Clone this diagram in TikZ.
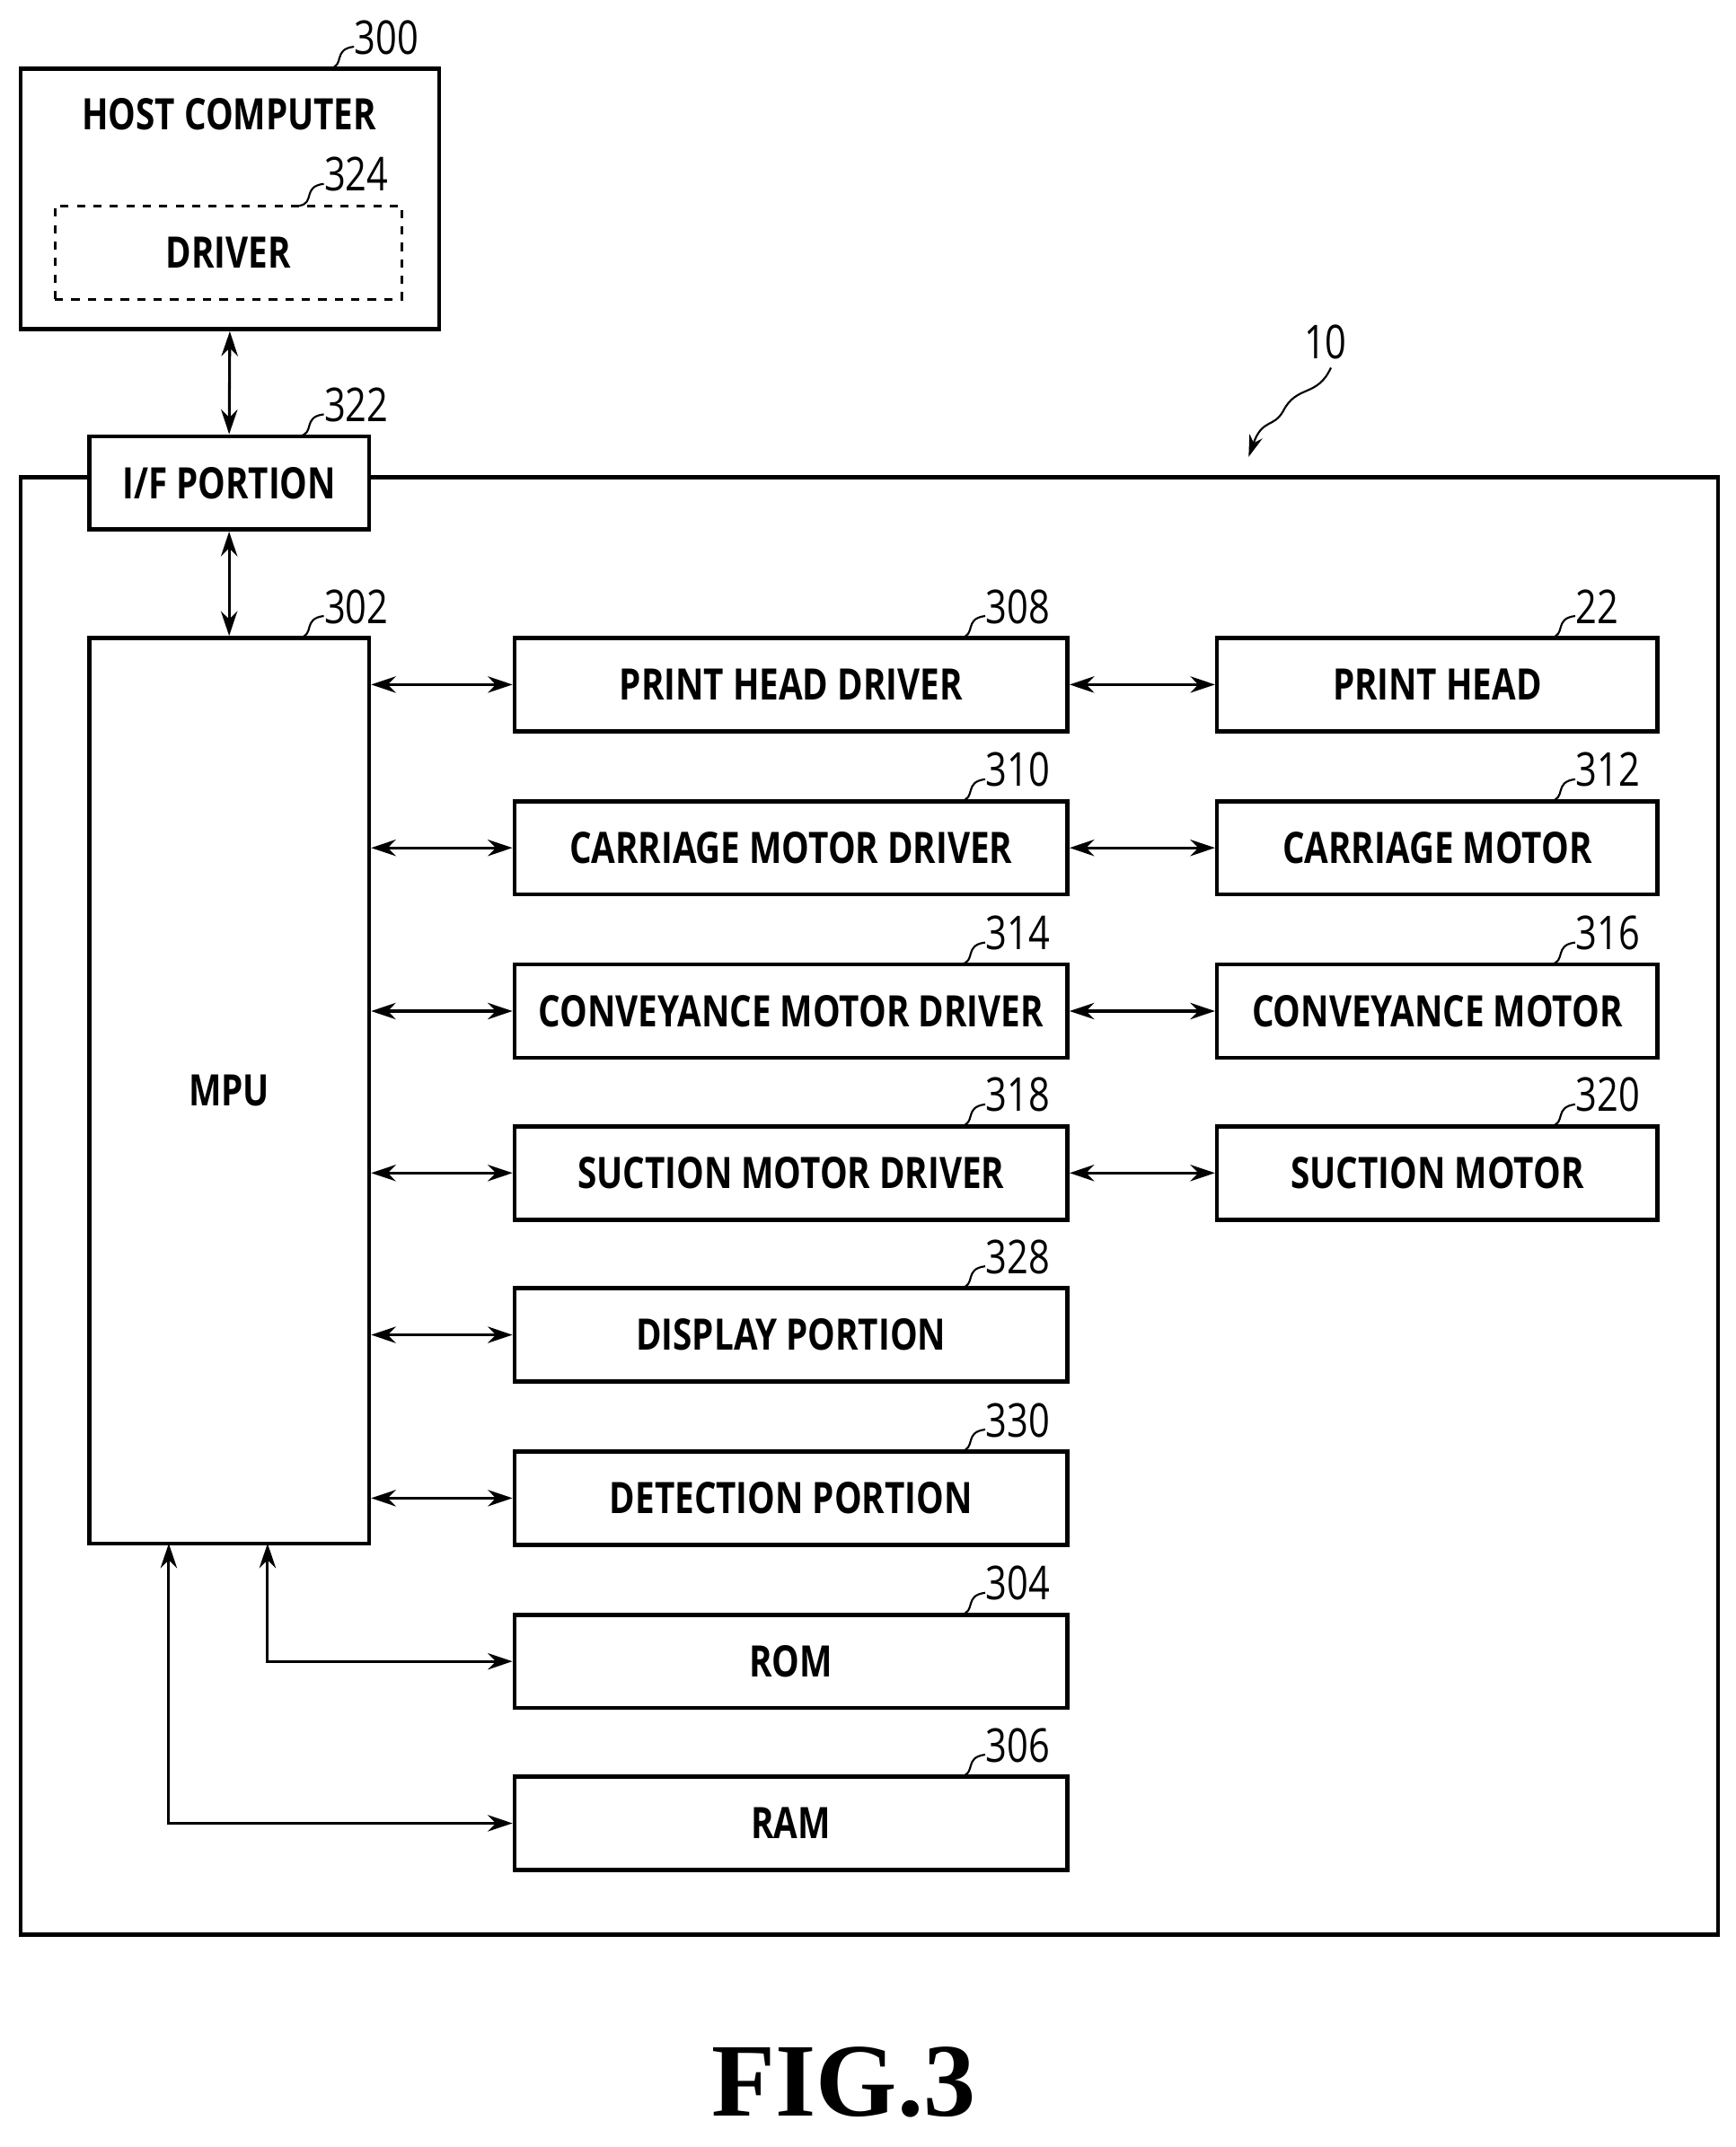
\documentclass[tikz,border=0pt]{standalone}
\usepackage{fontspec}
\setmainfont{Open Sans}[FakeStretch=0.8]
\usetikzlibrary{arrows.meta}
\begin{document}
\begin{tikzpicture}[x=0.5pt,y=-0.5pt,
  box/.style={draw,line width=1.5pt,inner sep=0pt,font=\fontsize{15.8}{18}\selectfont\bfseries},
  arr/.style={line width=1pt,{Stealth[length=9pt,width=6pt]}-{Stealth[length=9pt,width=6pt]}},
  num/.style={font=\fontsize{17}{20}\selectfont,inner sep=0pt,anchor=south west}]
\useasboundingbox (0,0) rectangle (1265,1565);
\newcommand\lbl[4]{% name, x, y, text
  \draw[line width=0.7pt] (#2,#3) .. controls (#2+12,#3-2) and (#2+2,#3-14) .. (#2+18,#3-16);
  \node[num] (#1) at (#2+18,#3-10) {#4};}
% host
\node[box,minimum width=152.5pt,minimum height=95pt] (host) at (167.5,145) {};
\node[font=\fontsize{15.8}{18}\selectfont\bfseries] (hostt) at (167,83) {HOST COMPUTER};
\lbl{l300}{240}{50}{300}
\node[box,dashed,line width=1pt,minimum width=126.5pt,minimum height=34pt] (drv) at (166.5,184) {DRIVER};
\lbl{l324}{218}{150}{324}
% outer
\draw[line width=1.5pt] (15,348) rectangle (1252,1410);
\node[num] (l10) at (950,262) {10};
\coordinate (a10) at (910,333);
\draw[line width=0.7pt,-{Stealth[length=8pt,width=5pt]}] (970,268) .. controls (960,290) and (945,280) .. (935,300) .. controls (928,312) and (920,305) .. (a10);
\node[box,fill=white,minimum width=102pt,minimum height=34pt] (if) at (167,352) {I/F PORTION};
\lbl{l322}{218}{318}{322}
\node[box,minimum width=102pt,minimum height=330pt] (mpu) at (167,795) {MPU};
\lbl{l302}{218}{465}{302}
\draw[arr] (host.south) -- (if.north);
\draw[arr] (if.south) -- (mpu.north);
% columns
\foreach \n/\y/\t/\l in {phd/499/PRINT HEAD DRIVER/308, cmd/618/CARRIAGE MOTOR DRIVER/310, vmd/737/CONVEYANCE MOTOR DRIVER/314, smd/855/SUCTION MOTOR DRIVER/318, dsp/973/DISPLAY PORTION/328, det/1092/DETECTION PORTION/330, rom/1211/ROM/304, ram/1329/RAM/306}{
  \node[box,minimum width=201.5pt,minimum height=34pt] (\n) at (576.5,\y) {\t};
  \lbl{l\l}{700}{\y-34}{\l}
}
\foreach \n/\y/\t/\l in {ph/499/PRINT HEAD/22, cm/618/CARRIAGE MOTOR/312, vm/737/CONVEYANCE MOTOR/316, sm/855/SUCTION MOTOR/320}{
  \node[box,minimum width=160.5pt,minimum height=34pt] (\n) at (1047.5,\y) {\t};
  \lbl{l\l}{1130}{\y-34}{\l}
}
\foreach \n in {phd,cmd,vmd,smd,dsp,det}{\draw[arr] (mpu.east |- \n.west) -- (\n.west);}
\draw[arr] (phd) -- (ph); \draw[arr] (cmd) -- (cm); \draw[arr] (vmd) -- (vm); \draw[arr] (smd) -- (sm);
\coordinate (m1) at (195,1125);
\coordinate (m2) at (123,1125);
\draw[arr] (m1) |- (rom.west);
\draw[arr] (m2) |- (ram.west);
\node[font=\fontsize{38}{44}\selectfont\bfseries\fontspec{Liberation Serif}] (fig) at (615,1518) {FIG.3};
\end{tikzpicture}
\end{document}
